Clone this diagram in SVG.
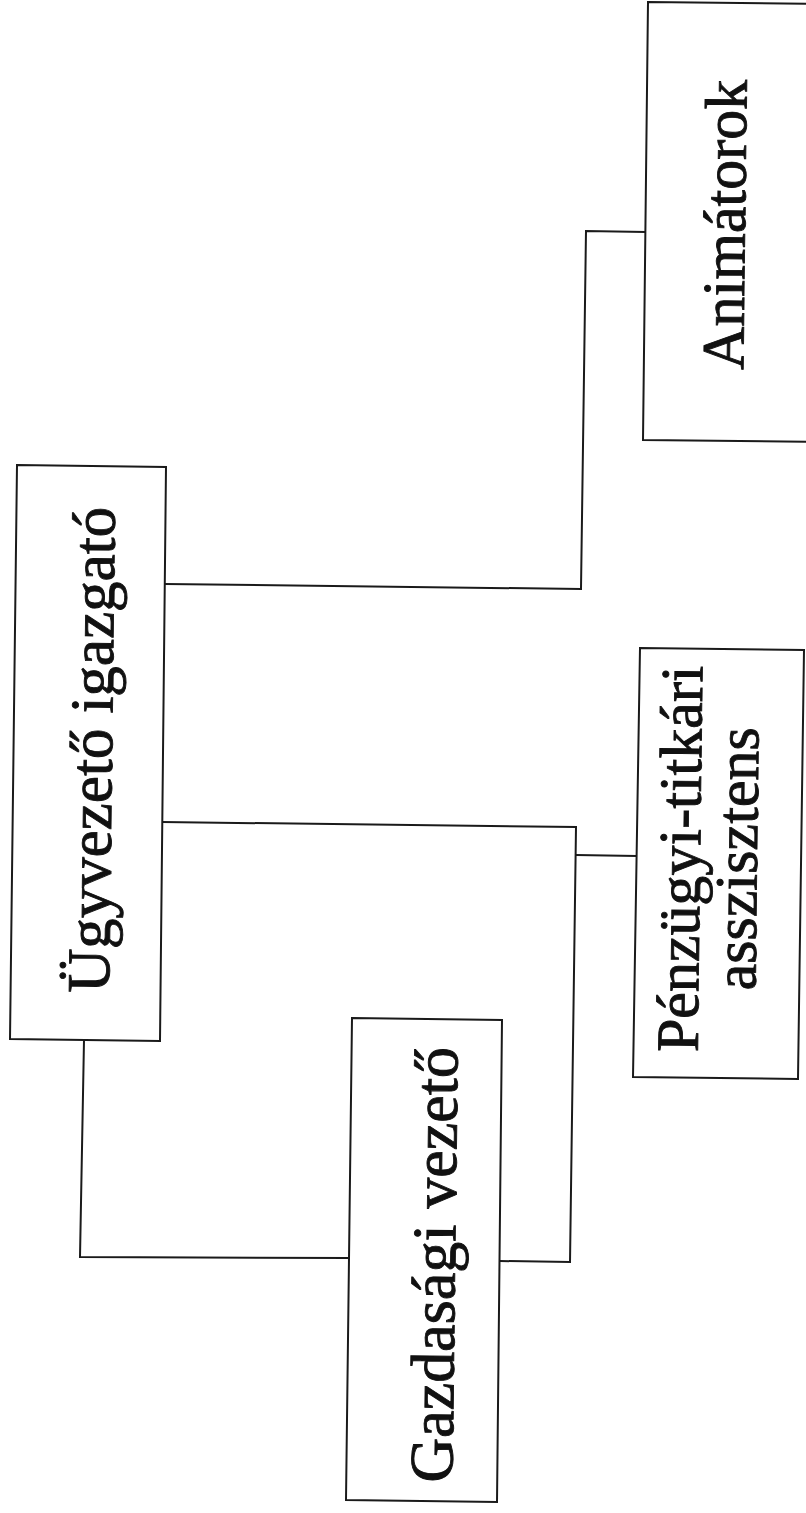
<svg xmlns="http://www.w3.org/2000/svg" width="806" height="1513" viewBox="0 0 806 1513">
<style>
.box{fill:#fff;stroke:#1a1a1a;stroke-width:2}
.conn{fill:none;stroke:#1a1a1a;stroke-width:2}
.lbl{font-family:"Liberation Serif","Times New Roman",serif;fill:#111;stroke:#111;stroke-width:0.9;text-anchor:middle}
</style>
<rect width="806" height="1513" fill="#fff"/>
<g id="connectors">
<polyline class="conn" points="165,584 581,589 586,231 646,232"/>
<polyline class="conn" points="162,822 576,827 570,1262 500,1261"/>
<polyline class="conn" points="576,855 637,856"/>
<polyline class="conn" points="84,1040 80,1257 350,1258"/>
</g>
<g id="node-ugyvezeto">
<polygon class="box" points="17,465 166,467 160,1041 10,1039"/>
<text class="lbl" font-size="61" transform="translate(112,750) rotate(-89.3)">Ügyvezető igazgató</text>
</g>
<g id="node-gazdasagi">
<polygon class="box" points="352,1018 502,1020 497,1502 346,1500"/>
<text class="lbl" font-size="62" transform="translate(455,1265) rotate(-89.3)">Gazdasági vezető</text>
</g>
<g id="node-animatorok">
<polygon class="box" points="648,2 830,4 825,442 643,440"/>
<text class="lbl" font-size="60" transform="translate(745,225) rotate(-89.3)">Animátorok</text>
</g>
<g id="node-penzugyi">
<polygon class="box" points="640,648 804,650 798,1079 633,1077"/>
<text class="lbl" font-size="60" transform="translate(700,859) rotate(-89.3)">Pénzügyi-titkári</text>
<text class="lbl" font-size="60" transform="translate(757,859) rotate(-89.3)">asszisztens</text>
</g>
</svg>
